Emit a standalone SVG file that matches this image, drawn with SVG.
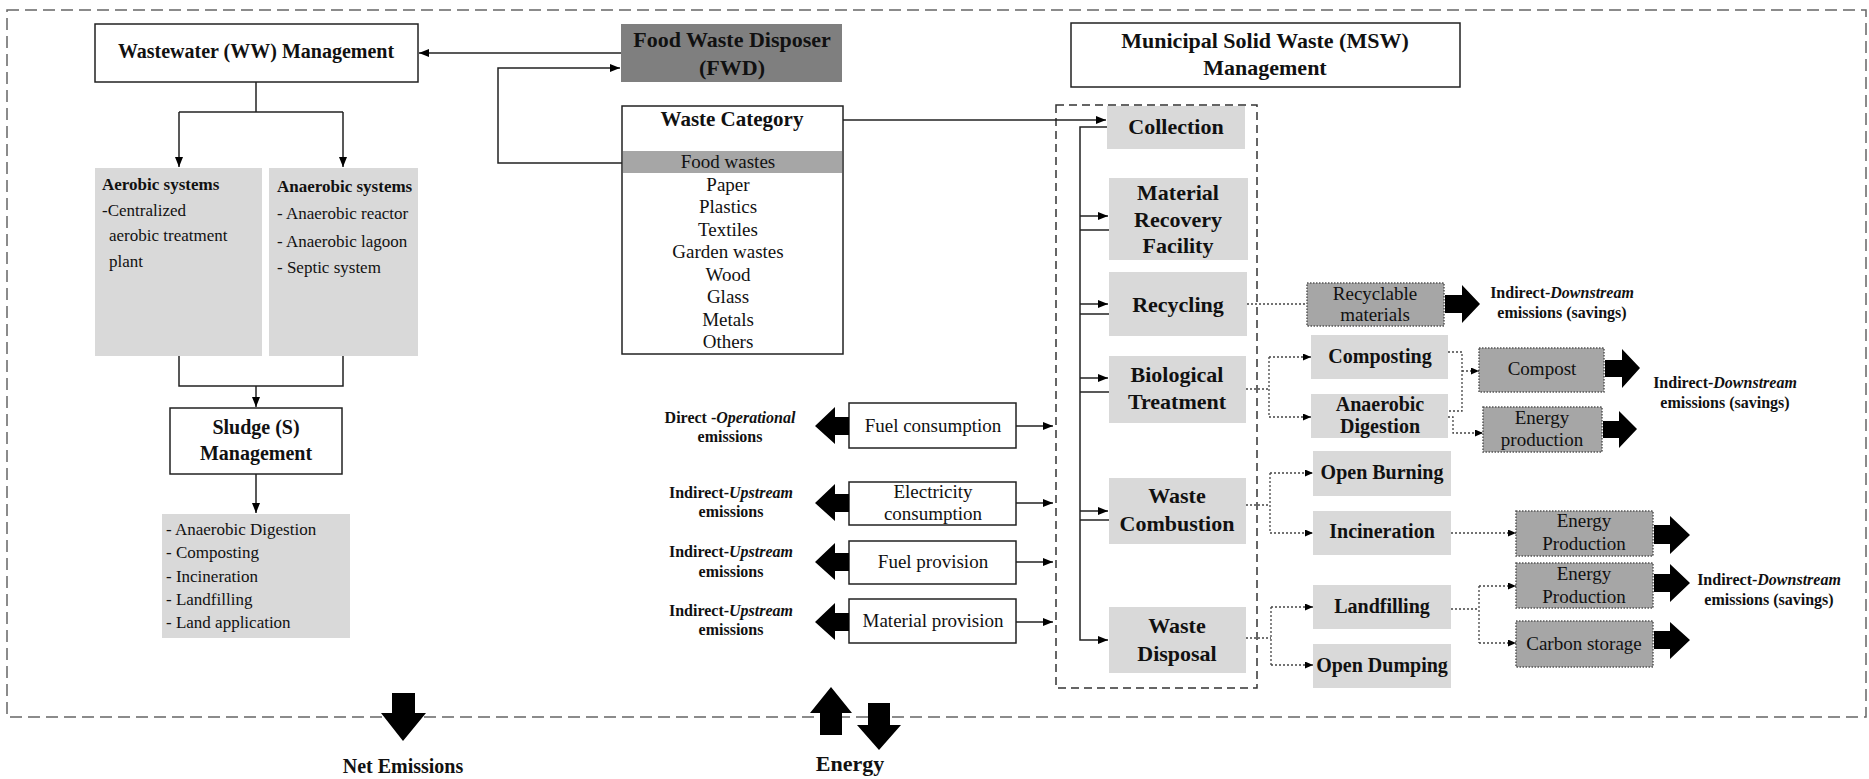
<svg xmlns="http://www.w3.org/2000/svg" width="1869" height="779" viewBox="0 0 1869 779">
<defs>
<style>
text{font-family:"Liberation Serif","Times New Roman",serif;fill:#111;}
.b{font-weight:bold;}
.c{text-anchor:middle;}
.f17{font-size:17px;}
.f19{font-size:19px;}
.f20{font-size:20px;}
.f22{font-size:22px;}
.lab{font-size:16px;font-weight:bold;text-anchor:middle;}
.wbox{fill:#fff;stroke:#222;stroke-width:1.5;}
.lg{fill:#d9d9d9;}
.dg{fill:#a6a6a6;stroke:#555;stroke-width:1.5;stroke-dasharray:1.5 1.5;}
.ln{fill:none;stroke:#222;stroke-width:1.5;}
.dl{fill:none;stroke:#444;stroke-width:1.3;stroke-dasharray:2 2;}
.blk{fill:#000;}
</style>
<marker id="ah" viewBox="0 0 10 8" refX="10" refY="4" markerWidth="10" markerHeight="8" markerUnits="userSpaceOnUse" orient="auto"><path d="M0,0 L10,4 L0,8 z" fill="#000"/></marker>
<marker id="ahs" viewBox="0 0 8 7" refX="8" refY="3.5" markerWidth="8" markerHeight="7" markerUnits="userSpaceOnUse" orient="auto"><path d="M0,0 L8,3.5 L0,7 z" fill="#000"/></marker>
</defs>

<!-- boundaries -->
<rect x="7" y="10" width="1859" height="707" fill="none" stroke="#666" stroke-width="1.5" stroke-dasharray="12 6"/>
<rect x="1056" y="105" width="201" height="583" fill="none" stroke="#333" stroke-width="1.5" stroke-dasharray="8 5"/>

<!-- Wastewater side -->
<g id="ww">
<rect class="wbox" x="95" y="24" width="323" height="58"/>
<text class="b c f20" x="256" y="58">Wastewater (WW) Management</text>
</g>
<g id="aerobic">
<rect class="lg" x="95" y="168" width="167" height="188"/>
<text class="b f17" x="102" y="190">Aerobic systems</text>
<text class="f17" x="102" y="216">-Centralized</text>
<text class="f17" x="109" y="241">aerobic treatment</text>
<text class="f17" x="109" y="267">plant</text>
</g>
<g id="anaerobic">
<rect class="lg" x="269" y="168" width="149" height="188"/>
<text class="b f17" x="277" y="192">Anaerobic systems</text>
<text class="f17" x="277" y="219">- Anaerobic reactor</text>
<text class="f17" x="277" y="247">- Anaerobic lagoon</text>
<text class="f17" x="277" y="273">- Septic system</text>
</g>
<g id="sludge">
<rect class="wbox" x="170" y="408" width="172" height="66"/>
<text class="b c f20" x="256" y="434">Sludge (S)</text>
<text class="b c f20" x="256" y="460">Management</text>
</g>
<g id="sludge-options">
<rect class="lg" x="162" y="514" width="188" height="124"/>
<text class="f17" x="166" y="535">- Anaerobic Digestion</text>
<text class="f17" x="166" y="558">- Composting</text>
<text class="f17" x="166" y="582">- Incineration</text>
<text class="f17" x="166" y="605">- Landfilling</text>
<text class="f17" x="166" y="628">- Land application</text>
</g>

<!-- FWD and waste category -->
<g id="fwd">
<rect x="621" y="24" width="221" height="58" fill="#7f7f7f"/>
<text class="b c f22" x="732" y="47">Food Waste Disposer</text>
<text class="b c f22" x="732" y="75">(FWD)</text>
</g>
<g id="waste-category">
<rect class="wbox" x="622" y="106" width="221" height="248"/>
<rect x="623" y="151" width="219" height="22" fill="#a6a6a6"/>
<text class="b c" font-size="21" x="732" y="126">Waste Category</text>
<text class="c f19" x="728" y="168">Food wastes</text>
<text class="c f19" x="728" y="191">Paper</text>
<text class="c f19" x="728" y="213">Plastics</text>
<text class="c f19" x="728" y="236">Textiles</text>
<text class="c f19" x="728" y="258">Garden wastes</text>
<text class="c f19" x="728" y="281">Wood</text>
<text class="c f19" x="728" y="303">Glass</text>
<text class="c f19" x="728" y="326">Metals</text>
<text class="c f19" x="728" y="348">Others</text>
</g>

<!-- MSW -->
<g id="msw">
<rect class="wbox" x="1071" y="23" width="389" height="64"/>
<text class="b c f22" x="1265" y="48">Municipal Solid Waste (MSW)</text>
<text class="b c f22" x="1265" y="75">Management</text>
</g>
<g id="collection">
<rect class="lg" x="1107" y="106" width="138" height="43"/>
<text class="b c f22" x="1176" y="134">Collection</text>
</g>
<g id="mrf">
<rect class="lg" x="1109" y="178" width="139" height="82"/>
<text class="b c f22" x="1178" y="200">Material</text>
<text class="b c f22" x="1178" y="227">Recovery</text>
<text class="b c f22" x="1178" y="253">Facility</text>
</g>
<g id="recycling">
<rect class="lg" x="1109" y="272" width="138" height="64"/>
<text class="b c f22" x="1178" y="312">Recycling</text>
</g>
<g id="biological">
<rect class="lg" x="1109" y="356" width="137" height="67"/>
<text class="b c f22" x="1177" y="382">Biological</text>
<text class="b c f22" x="1177" y="409">Treatment</text>
</g>
<g id="combustion">
<rect class="lg" x="1109" y="478" width="137" height="66"/>
<text class="b c f22" x="1177" y="503">Waste</text>
<text class="b c f22" x="1177" y="531">Combustion</text>
</g>
<g id="disposal">
<rect class="lg" x="1109" y="607" width="137" height="66"/>
<text class="b c f22" x="1177" y="633">Waste</text>
<text class="b c f22" x="1177" y="661">Disposal</text>
</g>

<!-- second level -->
<g id="composting">
<rect class="lg" x="1311" y="335" width="137" height="44"/>
<text class="b c f20" x="1380" y="363">Composting</text>
</g>
<g id="anaerobic-digestion">
<rect class="lg" x="1311" y="394" width="137" height="44"/>
<text class="b c f20" x="1380" y="411">Anaerobic</text>
<text class="b c f20" x="1380" y="433">Digestion</text>
</g>
<g id="open-burning">
<rect class="lg" x="1313" y="451" width="138" height="45"/>
<text class="b c f20" x="1382" y="479">Open Burning</text>
</g>
<g id="incineration">
<rect class="lg" x="1313" y="511" width="138" height="44"/>
<text class="b c f20" x="1382" y="538">Incineration</text>
</g>
<g id="landfilling">
<rect class="lg" x="1313" y="585" width="138" height="44"/>
<text class="b c f20" x="1382" y="613">Landfilling</text>
</g>
<g id="open-dumping">
<rect class="lg" x="1313" y="644" width="138" height="44"/>
<text class="b c f20" x="1382" y="672">Open Dumping</text>
</g>

<!-- products -->
<g id="recyclable">
<rect class="dg" x="1307" y="283" width="137" height="43"/>
<text class="c f19" x="1375" y="300">Recyclable</text>
<text class="c f19" x="1375" y="321">materials</text>
</g>
<g id="compost">
<rect class="dg" x="1479" y="348" width="125" height="44"/>
<text class="c f19" x="1542" y="375">Compost</text>
</g>
<g id="energy-bio">
<rect class="dg" x="1483" y="407" width="119" height="45"/>
<text class="c f19" x="1542" y="424">Energy</text>
<text class="c f19" x="1542" y="446">production</text>
</g>
<g id="energy-inc">
<rect class="dg" x="1516" y="511" width="137" height="45"/>
<text class="c f19" x="1584" y="527">Energy</text>
<text class="c f19" x="1584" y="550">Production</text>
</g>
<g id="energy-lf">
<rect class="dg" x="1516" y="563" width="137" height="45"/>
<text class="c f19" x="1584" y="580">Energy</text>
<text class="c f19" x="1584" y="603">Production</text>
</g>
<g id="carbon">
<rect class="dg" x="1516" y="621" width="137" height="46"/>
<text class="c f19" x="1584" y="650">Carbon storage</text>
</g>

<!-- inputs -->
<g id="fuel-consumption">
<rect class="wbox" x="849" y="403" width="167" height="45"/>
<text class="c f19" x="933" y="432">Fuel consumption</text>
</g>
<g id="electricity">
<rect class="wbox" x="849" y="482" width="167" height="43"/>
<text class="c f19" x="933" y="498">Electricity</text>
<text class="c f19" x="933" y="520">consumption</text>
</g>
<g id="fuel-provision">
<rect class="wbox" x="849" y="541" width="167" height="43"/>
<text class="c f19" x="933" y="568">Fuel provision</text>
</g>
<g id="material-provision">
<rect class="wbox" x="849" y="599" width="167" height="44"/>
<text class="c f19" x="933" y="627">Material provision</text>
</g>

<!-- emission labels -->
<g id="labels">
<text class="lab" x="730" y="423">Direct -<tspan font-style="italic">Operational</tspan></text>
<text class="lab" x="730" y="442">emissions</text>
<text class="lab" x="731" y="498">Indirect-<tspan font-style="italic">Upstream</tspan></text>
<text class="lab" x="731" y="517">emissions</text>
<text class="lab" x="731" y="557">Indirect-<tspan font-style="italic">Upstream</tspan></text>
<text class="lab" x="731" y="577">emissions</text>
<text class="lab" x="731" y="616">Indirect-<tspan font-style="italic">Upstream</tspan></text>
<text class="lab" x="731" y="635">emissions</text>
<text class="lab" x="1562" y="298">Indirect-<tspan font-style="italic">Downstream</tspan></text>
<text class="lab" x="1562" y="318">emissions (savings)</text>
<text class="lab" x="1725" y="388">Indirect-<tspan font-style="italic">Downstream</tspan></text>
<text class="lab" x="1725" y="408">emissions (savings)</text>
<text class="lab" x="1769" y="585">Indirect-<tspan font-style="italic">Downstream</tspan></text>
<text class="lab" x="1769" y="605">emissions (savings)</text>
<text class="b c f20" x="403" y="773">Net Emissions</text>
<text class="b c f22" x="850" y="771">Energy</text>
</g>

<!-- block arrows -->
<g id="block-arrows">
<polygon class="blk" points="815,426 835,407 835,417 849,417 849,435 835,435 835,444"/>
<polygon class="blk" points="815,503 835,484 835,494 849,494 849,512 835,512 835,521"/>
<polygon class="blk" points="815,562 835,543 835,553 849,553 849,571 835,571 835,580"/>
<polygon class="blk" points="815,622 835,603 835,613 849,613 849,631 835,631 835,640"/>
<polygon class="blk" points="1445,295 1462,295 1462,285 1480,304 1462,323 1462,313 1445,313"/>
<polygon class="blk" points="1605,360 1622,360 1622,349 1640,368 1622,388 1622,377 1605,377"/>
<polygon class="blk" points="1603,421 1619,421 1619,411 1637,429 1619,448 1619,438 1603,438"/>
<polygon class="blk" points="1654,525 1670,525 1670,516 1690,535 1670,554 1670,544 1654,544"/>
<polygon class="blk" points="1654,574 1670,574 1670,564 1690,583 1670,602 1670,592 1654,592"/>
<polygon class="blk" points="1654,631 1670,631 1670,622 1690,640 1670,659 1670,649 1654,649"/>
<polygon class="blk" points="392,693 415,693 415,713 426,713 403,741 381,713 392,713"/>
<polygon class="blk" points="831,687 852,713 842,713 842,735 820,735 820,713 810,713"/>
<polygon class="blk" points="868,703 890,703 890,725 901,725 879,750 857,725 868,725"/>
</g>

<!-- connectors -->
<g id="connectors">
<line class="ln" x1="621" y1="53" x2="419" y2="53" marker-end="url(#ah)"/>
<polyline class="ln" points="622,163 498,163 498,68 620,68" marker-end="url(#ah)"/>
<line class="ln" x1="256" y1="82" x2="256" y2="112"/>
<line class="ln" x1="179" y1="112" x2="343" y2="112"/>
<line class="ln" x1="179" y1="112" x2="179" y2="167" marker-end="url(#ah)"/>
<line class="ln" x1="343" y1="112" x2="343" y2="167" marker-end="url(#ah)"/>
<polyline class="ln" points="179,356 179,386 343,386 343,356"/>
<line class="ln" x1="256" y1="386" x2="256" y2="407" marker-end="url(#ah)"/>
<line class="ln" x1="256" y1="474" x2="256" y2="513" marker-end="url(#ah)"/>
<line class="ln" x1="843" y1="120" x2="1106" y2="120" marker-end="url(#ah)"/>
<polyline class="ln" points="1107,127 1080,127 1080,640 1108,640" marker-end="url(#ah)"/>
<line class="ln" x1="1080" y1="216" x2="1108" y2="216" marker-end="url(#ah)"/>
<line class="ln" x1="1080" y1="230" x2="1109" y2="230"/>
<line class="ln" x1="1080" y1="304" x2="1108" y2="304" marker-end="url(#ah)"/>
<line class="ln" x1="1080" y1="314" x2="1109" y2="314"/>
<line class="ln" x1="1080" y1="378" x2="1108" y2="378" marker-end="url(#ah)"/>
<line class="ln" x1="1080" y1="392" x2="1109" y2="392"/>
<line class="ln" x1="1080" y1="511" x2="1108" y2="511" marker-end="url(#ah)"/>
<line class="ln" x1="1080" y1="520" x2="1109" y2="520"/>
<line class="ln" x1="1016" y1="426" x2="1053" y2="426" marker-end="url(#ah)"/>
<line class="ln" x1="1016" y1="503" x2="1053" y2="503" marker-end="url(#ah)"/>
<line class="ln" x1="1016" y1="562" x2="1053" y2="562" marker-end="url(#ah)"/>
<line class="ln" x1="1016" y1="622" x2="1053" y2="622" marker-end="url(#ah)"/>
<!-- dotted -->
<line class="dl" x1="1247" y1="304" x2="1307" y2="304"/>
<line class="dl" x1="1246" y1="389" x2="1269" y2="389"/>
<line class="dl" x1="1269" y1="357" x2="1269" y2="417"/>
<line class="dl" x1="1269" y1="357" x2="1311" y2="357" marker-end="url(#ahs)"/>
<line class="dl" x1="1269" y1="417" x2="1311" y2="417" marker-end="url(#ahs)"/>
<polyline class="dl" points="1448,352 1462,352 1462,411 1448,411"/>
<line class="dl" x1="1462" y1="371" x2="1479" y2="371" marker-end="url(#ahs)"/>
<polyline class="dl" points="1448,417 1453,417 1453,433 1483,433" marker-end="url(#ahs)"/>
<line class="dl" x1="1246" y1="505" x2="1270" y2="505"/>
<line class="dl" x1="1270" y1="473" x2="1270" y2="533"/>
<line class="dl" x1="1270" y1="473" x2="1313" y2="473" marker-end="url(#ahs)"/>
<line class="dl" x1="1270" y1="533" x2="1313" y2="533" marker-end="url(#ahs)"/>
<line class="dl" x1="1451" y1="533" x2="1516" y2="533" marker-end="url(#ahs)"/>
<line class="dl" x1="1246" y1="638" x2="1271" y2="638"/>
<line class="dl" x1="1271" y1="607" x2="1271" y2="665"/>
<line class="dl" x1="1271" y1="607" x2="1313" y2="607" marker-end="url(#ahs)"/>
<line class="dl" x1="1271" y1="665" x2="1313" y2="665" marker-end="url(#ahs)"/>
<line class="dl" x1="1451" y1="609" x2="1479" y2="609"/>
<line class="dl" x1="1479" y1="586" x2="1479" y2="643"/>
<line class="dl" x1="1479" y1="586" x2="1516" y2="586" marker-end="url(#ahs)"/>
<line class="dl" x1="1479" y1="643" x2="1516" y2="643" marker-end="url(#ahs)"/>
</g>
</svg>
